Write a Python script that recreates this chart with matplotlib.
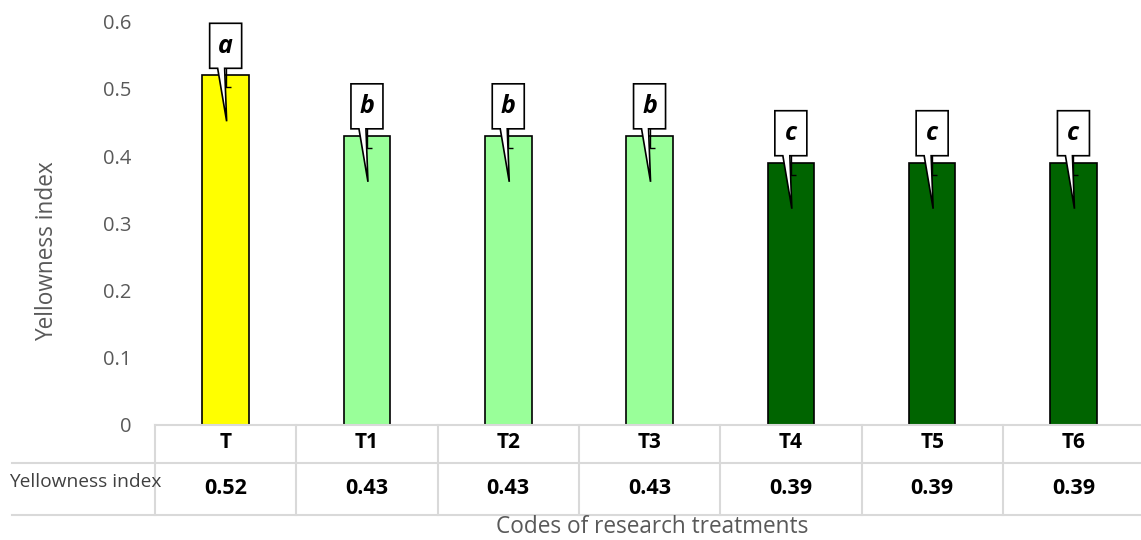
import matplotlib
matplotlib.use("Agg")
import matplotlib.pyplot as plt
from matplotlib.patches import Polygon
from matplotlib.lines import Line2D
import matplotlib.transforms as mtransforms

plt.rcParams['font.family'] = ['Open Sans', 'DejaVu Sans']

# data
codes = ['T', 'T1', 'T2', 'T3', 'T4', 'T5', 'T6']
yellowness = [0.52, 0.43, 0.43, 0.43, 0.39, 0.39, 0.39]
errors = [0.018, 0.018, 0.018, 0.018, 0.018, 0.018, 0.018]
letters = ['a', 'b', 'b', 'b', 'c', 'c', 'c']
bar_colors = ['#FFFF00', '#99FF99', '#99FF99', '#99FF99', '#006400', '#006400', '#006400']

W, H = 1141, 540
fig = plt.figure(figsize=(W / 100, H / 100), dpi=100, facecolor='white')

# axes geometry in pixels
ax_left, ax_right = 155, 155 + 7 * 141.3
ax_base, ax_top = 425, 21.5
ax = fig.add_axes([ax_left / W, 1 - ax_base / H, (ax_right - ax_left) / W, (ax_base - ax_top) / H])

x = list(range(len(codes)))
ax.bar(x, yellowness, width=0.33, color=bar_colors, edgecolor='black', linewidth=1.2, zorder=2)
ax.errorbar(x, yellowness, yerr=errors, fmt='none', ecolor='black', elinewidth=1.0,
            capsize=3.5, capthick=1.0, zorder=3)

ax.set_xlim(-0.5, len(codes) - 0.5)
ax.set_ylim(0, 0.6)
ax.set_yticks([0, 0.1, 0.2, 0.3, 0.4, 0.5, 0.6])
ax.set_yticklabels(['0', '0.1', '0.2', '0.3', '0.4', '0.5', '0.6'])
ax.tick_params(axis='y', length=0, pad=17, labelsize=14.5, labelcolor='#595959')
ax.set_xticks([])
for s in ax.spines.values():
    s.set_visible(False)
ax.set_facecolor('none')

fig.text(47 / W, 1 - 251 / H, 'Yellowness index', rotation=90, ha='center', va='center',
         fontsize=16.3, color='#595959')

# callouts with significance letters
fig.canvas.draw()
for xi, v, let in zip(x, yellowness, letters):
    verts = [(-16, 7), (-8, 7), (1, -46), (-1, 7), (16, 7), (16, 52), (-16, 52)]
    tr = mtransforms.Affine2D() + mtransforms.ScaledTranslation(xi, v, ax.transData)
    poly = Polygon(verts, closed=True, facecolor='white', edgecolor='black',
                   linewidth=1.2, transform=tr, zorder=5, clip_on=False)
    ax.add_patch(poly)
    ax.annotate(let, xy=(xi, v), xytext=(0, 29 * 0.72), textcoords='offset points',
                ha='center', va='center', fontsize=18, fontweight='bold', fontstyle='italic',
                color='black', zorder=6)

# data table under the axis
grid_c = '#d9d9d9'
bt = mtransforms.blended_transform_factory(ax.transData, fig.transFigure)
fy = lambda py: 1 - py / H
fig.add_artist(Line2D([ax_left / W, 1], [fy(425), fy(425)], color=grid_c, lw=1.5,
                      transform=fig.transFigure))
for py in (463, 515):
    fig.add_artist(Line2D([12 / W, 1], [fy(py), fy(py)], color=grid_c, lw=1.5,
                          transform=fig.transFigure))
for k in range(len(codes)):
    ax.add_line(Line2D([k - 0.5, k - 0.5], [fy(425), fy(515)], color=grid_c, lw=1.5,
                       transform=bt, clip_on=False))
for xi, c, v in zip(x, codes, yellowness):
    ax.text(xi, fy(443), c, transform=bt, ha='center', va='center', fontsize=15,
            fontweight='bold', color='black')
    ax.text(xi, fy(488), f'{v:.2f}', transform=bt, ha='center', va='center', fontsize=15.5,
            fontweight='bold', color='black')
fig.text(9 / W, fy(482), 'Yellowness index', ha='left', va='center', fontsize=13.8,
         color='#404040')

fig.text(652 / W, fy(527), 'Codes of research treatments', ha='center', va='center',
         fontsize=16.3, color='#595959')

fig.savefig('out.png', dpi=100, facecolor='white')
